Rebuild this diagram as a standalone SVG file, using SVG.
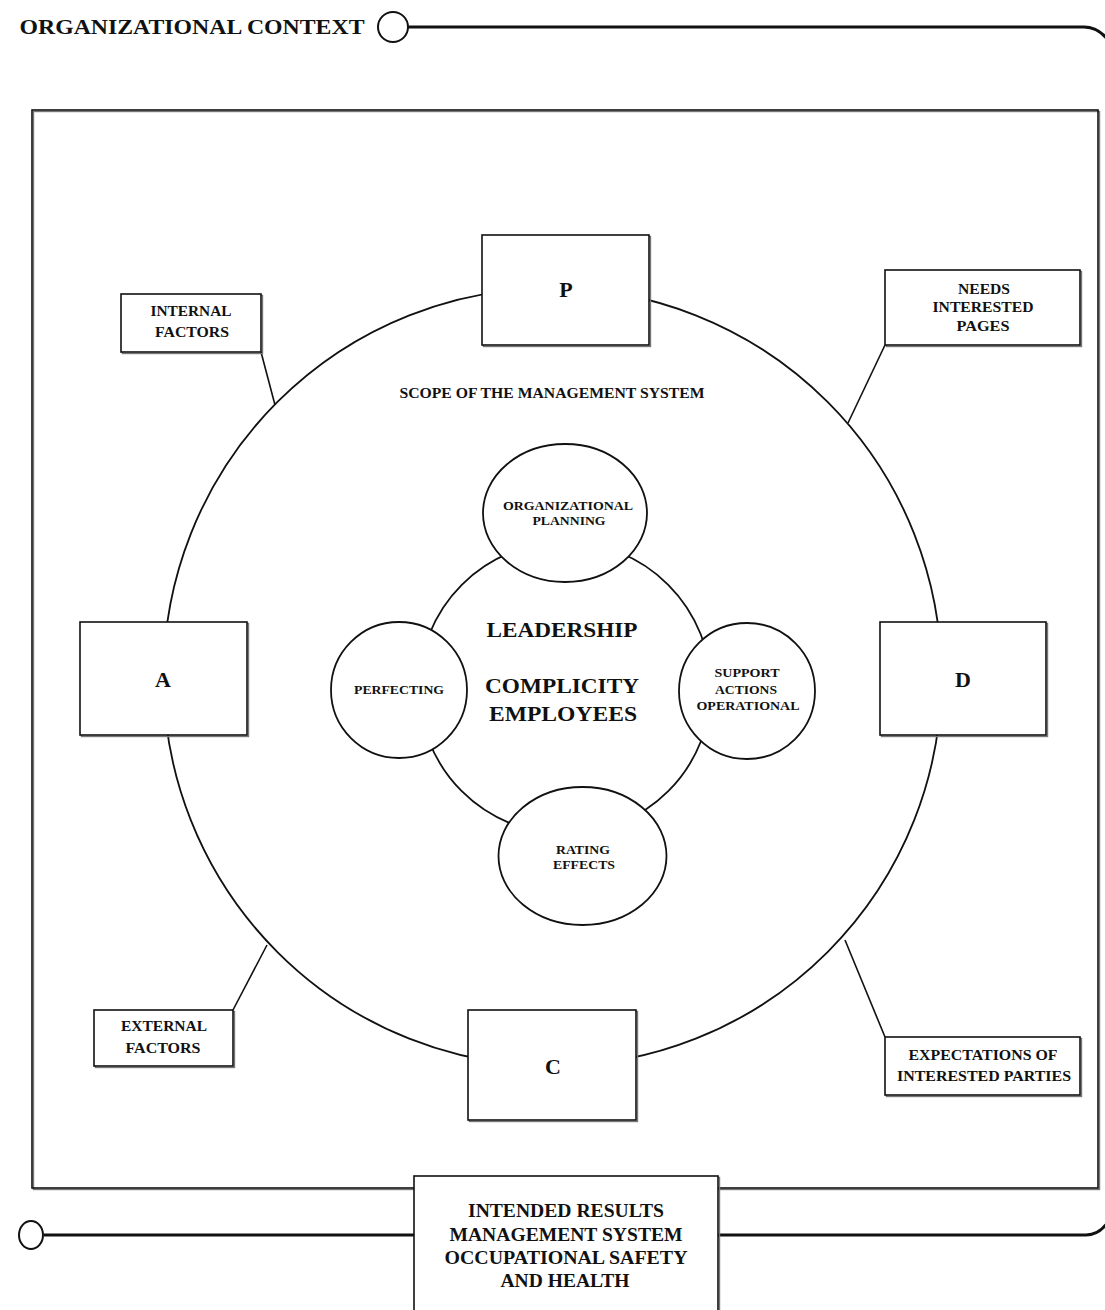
<svg xmlns="http://www.w3.org/2000/svg" width="1105" height="1310" viewBox="0 0 1105 1310">
<style>
.t{font-family:"Liberation Serif","Times New Roman",serif;font-weight:bold;fill:#111;text-anchor:middle}
.box{fill:#fff;stroke:#111;stroke-width:1.6}
.sh{fill:none;stroke:#777;stroke-width:1.4}
.ln{fill:none;stroke:#111;stroke-width:1.6}
.thick{fill:none;stroke:#111;stroke-width:3}
.circ{fill:#fff;stroke:#111;stroke-width:1.8}
</style>
<rect width="1105" height="1310" fill="#fff"/>
<g id="context-line">
<path class="thick" d="M408,27 H1084 Q1098,27 1108,40"/>
<circle cx="393" cy="27" r="15" fill="#fff" stroke="#111" stroke-width="2"/>
<text class="t" x="192" y="34" font-size="22" textLength="345" lengthAdjust="spacingAndGlyphs">ORGANIZATIONAL CONTEXT</text>
</g>
<g id="frame">
<rect x="33.5" y="111.5" width="1066" height="1078" class="sh"/>
<rect x="32" y="110" width="1066" height="1078" fill="none" stroke="#111" stroke-width="1.6"/>
</g>
<g id="results-line">
<path class="thick" d="M44,1235 H414 M718,1235 H1086 Q1099,1235 1108,1222"/>
<ellipse cx="31" cy="1235" rx="12" ry="14" fill="#fff" stroke="#111" stroke-width="2"/>
</g>
<g id="connectors">
<line class="ln" x1="261" y1="352" x2="275" y2="405"/>
<line class="ln" x1="885" y1="345" x2="848" y2="423"/>
<line class="ln" x1="233" y1="1010" x2="267" y2="945"/>
<line class="ln" x1="885" y1="1037" x2="845" y2="940"/>
</g>
<g id="scope">
<circle cx="552.5" cy="677" r="389" fill="none" stroke="#111" stroke-width="1.8"/>
<text class="t" x="552" y="398" font-size="15" textLength="305" lengthAdjust="spacingAndGlyphs">SCOPE OF THE MANAGEMENT SYSTEM</text>
</g>
<g id="core">
<circle cx="565" cy="688" r="146" class="circ"/>
<text class="t" x="562" y="637" font-size="22" textLength="151" lengthAdjust="spacingAndGlyphs">LEADERSHIP</text>
<text class="t" x="562" y="693" font-size="22" textLength="154" lengthAdjust="spacingAndGlyphs">COMPLICITY</text>
<text class="t" x="563" y="721" font-size="22" textLength="148" lengthAdjust="spacingAndGlyphs">EMPLOYEES</text>
</g>
<g id="org-planning">
<ellipse cx="565" cy="513" rx="82" ry="69" class="circ"/>
<text class="t" x="568" y="510" font-size="13" textLength="130" lengthAdjust="spacingAndGlyphs">ORGANIZATIONAL</text>
<text class="t" x="569" y="525" font-size="13" textLength="73" lengthAdjust="spacingAndGlyphs">PLANNING</text>
</g>
<g id="perfecting">
<circle cx="399" cy="690" r="68" class="circ"/>
<text class="t" x="399" y="694" font-size="13" textLength="90" lengthAdjust="spacingAndGlyphs">PERFECTING</text>
</g>
<g id="support">
<circle cx="747" cy="691" r="68" class="circ"/>
<text class="t" x="747" y="677" font-size="13" textLength="65" lengthAdjust="spacingAndGlyphs">SUPPORT</text>
<text class="t" x="746" y="694" font-size="13" textLength="62" lengthAdjust="spacingAndGlyphs">ACTIONS</text>
<text class="t" x="748" y="710" font-size="13" textLength="103" lengthAdjust="spacingAndGlyphs">OPERATIONAL</text>
</g>
<g id="rating">
<ellipse cx="582.5" cy="856" rx="84" ry="69" class="circ"/>
<text class="t" x="583" y="854" font-size="13" textLength="54" lengthAdjust="spacingAndGlyphs">RATING</text>
<text class="t" x="584" y="869" font-size="13" textLength="62" lengthAdjust="spacingAndGlyphs">EFFECTS</text>
</g>
<g id="P">
<rect x="483.5" y="236.5" width="167" height="110" class="sh"/>
<rect x="482" y="235" width="167" height="110" class="box"/>
<text class="t" x="566" y="297" font-size="22">P</text>
</g>
<g id="A">
<rect x="81.5" y="623.5" width="167" height="113" class="sh"/>
<rect x="80" y="622" width="167" height="113" class="box"/>
<text class="t" x="163" y="687" font-size="22">A</text>
</g>
<g id="D">
<rect x="881.5" y="623.5" width="166" height="113" class="sh"/>
<rect x="880" y="622" width="166" height="113" class="box"/>
<text class="t" x="963" y="687" font-size="22">D</text>
</g>
<g id="C">
<rect x="469.5" y="1011.5" width="168" height="110" class="sh"/>
<rect x="468" y="1010" width="168" height="110" class="box"/>
<text class="t" x="553" y="1074" font-size="22">C</text>
</g>
<g id="internal-factors">
<rect x="122.5" y="295.5" width="140" height="58" class="sh"/>
<rect x="121" y="294" width="140" height="58" class="box"/>
<text class="t" x="191" y="316" font-size="15" textLength="81" lengthAdjust="spacingAndGlyphs">INTERNAL</text>
<text class="t" x="192" y="337" font-size="15" textLength="74" lengthAdjust="spacingAndGlyphs">FACTORS</text>
</g>
<g id="needs">
<rect x="886.5" y="271.5" width="195" height="75" class="sh"/>
<rect x="885" y="270" width="195" height="75" class="box"/>
<text class="t" x="984" y="294" font-size="15" textLength="52" lengthAdjust="spacingAndGlyphs">NEEDS</text>
<text class="t" x="983" y="312" font-size="15" textLength="101" lengthAdjust="spacingAndGlyphs">INTERESTED</text>
<text class="t" x="983" y="331" font-size="15" textLength="53" lengthAdjust="spacingAndGlyphs">PAGES</text>
</g>
<g id="external-factors">
<rect x="95.5" y="1011.5" width="139" height="56" class="sh"/>
<rect x="94" y="1010" width="139" height="56" class="box"/>
<text class="t" x="164" y="1031" font-size="15" textLength="86" lengthAdjust="spacingAndGlyphs">EXTERNAL</text>
<text class="t" x="163" y="1053" font-size="15" textLength="75" lengthAdjust="spacingAndGlyphs">FACTORS</text>
</g>
<g id="expectations">
<rect x="886.5" y="1038.5" width="195" height="58" class="sh"/>
<rect x="885" y="1037" width="195" height="58" class="box"/>
<text class="t" x="983" y="1060" font-size="15" textLength="149" lengthAdjust="spacingAndGlyphs">EXPECTATIONS OF</text>
<text class="t" x="984" y="1081" font-size="15" textLength="174" lengthAdjust="spacingAndGlyphs">INTERESTED PARTIES</text>
</g>
<g id="intended-results">
<rect x="415.5" y="1177.5" width="304" height="140" class="sh"/>
<rect x="414" y="1176" width="304" height="140" class="box"/>
<text class="t" x="566" y="1217" font-size="18" textLength="196" lengthAdjust="spacingAndGlyphs">INTENDED RESULTS</text>
<text class="t" x="566" y="1241" font-size="18" textLength="233" lengthAdjust="spacingAndGlyphs">MANAGEMENT SYSTEM</text>
<text class="t" x="566" y="1264" font-size="18" textLength="243" lengthAdjust="spacingAndGlyphs">OCCUPATIONAL SAFETY</text>
<text class="t" x="565" y="1287" font-size="18" textLength="129" lengthAdjust="spacingAndGlyphs">AND HEALTH</text>
</g>
</svg>
